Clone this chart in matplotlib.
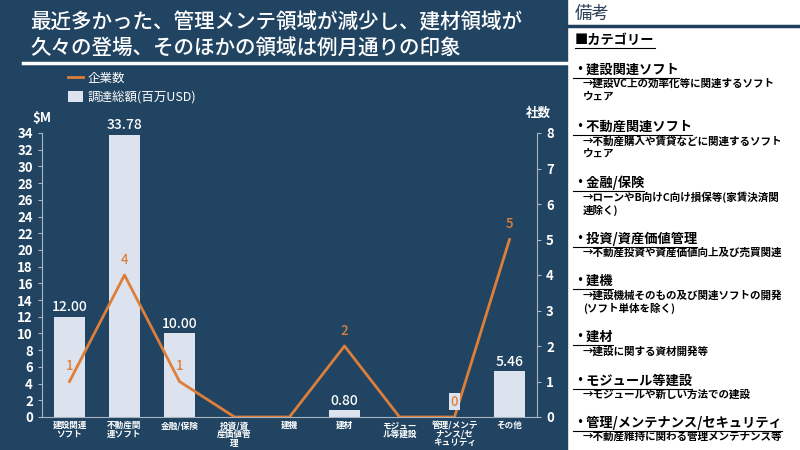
import matplotlib.pyplot as plt
from matplotlib.patches import Rectangle, Patch
from matplotlib.lines import Line2D

plt.rcParams['font.family'] = ['Noto Sans CJK JP', 'DejaVu Sans']

categories = ["建設関連\nソフト", "不動産関\n連ソフト", "金融/保険", "投資/資\n産価値管\n理", "建機",
              "建材", "モジュー\nル等建設", "管理/メンテ\nナンス/セ\nキュリティ", "その他"]
funding = [12.00, 33.78, 10.00, 0, 0, 0.80, 0, 0, 5.46]
companies = [1, 4, 1, 0, 0, 2, 0, 0, 5]
company_labels = ["1", "4", "1", None, None, "2", None, "0", "5"]

notes = [
    ("・建設関連ソフト", ["→建設VC上の効率化等に関連するソフト", "ウェア"]),
    ("・不動産関連ソフト", ["→不動産購入や賃貸などに関連するソフト", "ウェア"]),
    ("・金融/保険", ["→ローンやB向けC向け損保等(家賃決済関", "連除く)"]),
    ("・投資/資産価値管理", ["→不動産投資や資産価値向上及び売買関連"]),
    ("・建機", ["→建設機械そのもの及び関連ソフトの開発", "(ソフト単体を除く)"]),
    ("・建材", ["→建設に関する資材開発等"]),
    ("・モジュール等建設", ["→モジュールや新しい方法での建設"]),
    ("・管理/メンテナンス/セキュリティ", ["→不動産維持に関わる管理メンテナンス等"]),
]
heading_y = [70, 127, 183, 239, 281, 337, 381, 423]

NAVY = "#214462"
BAR = "#dde3ee"
ORANGE = "#dd7f3a"
W, H = 800, 450

fig = plt.figure(figsize=(8, 4.5), dpi=100, facecolor="white")
fig.patches.append(Rectangle((0, 0), 567 / W, 1, transform=fig.transFigure, color=NAVY, zorder=-5))

# title
fig.text(30 / W, 1 - 22 / H, "最近多かった、管理メンテ領域が減少し、建材領域が", color="white",
         fontsize=14.8, fontweight="medium", va="center")
fig.text(30 / W, 1 - 48 / H, "久々の登場、そのほかの領域は例月通りの印象", color="white",
         fontsize=14.8, fontweight="medium", va="center")
fig.add_artist(Line2D([23 / W, 567 / W], [1 - 63 / H] * 2, color="white", lw=2.5))

# chart
ax = fig.add_axes([42 / W, 1 - 417 / H, 495 / W, 284 / H])
ax.set_facecolor("none")
x = list(range(len(categories)))
bars = ax.bar(x, funding, width=0.55, color=BAR, zorder=2)
for b, v in zip(bars, funding):
    if v > 0:
        ax.text(b.get_x() + b.get_width() / 2, v + 0.3, f"{v:.2f}", color="white",
                ha="center", va="bottom", fontsize=10, fontweight="medium")
ax.set_xlim(-0.5, len(categories) - 0.5)
ax.set_ylim(0, 34)
ax.set_yticks(range(0, 35, 2))
ax.set_xticks(x)
ax.set_xticklabels(categories, fontsize=6.2, color="white", fontweight="bold", linespacing=0.95)
ax.tick_params(axis="x", length=0, pad=3)
ax.tick_params(axis="y", colors="#aab4c0", labelcolor="white", labelsize=9.5, length=3)
for lab in ax.get_yticklabels():
    lab.set_fontweight("bold")
for s in ["top", "right"]:
    ax.spines[s].set_visible(False)
ax.spines["left"].set_color("#aab4c0")
ax.spines["bottom"].set_color("#aab4c0")

ax2 = ax.twinx()
ax2.plot(x, companies, color=ORANGE, lw=2, zorder=3)
ax2.set_ylim(0, 8)
ax2.set_yticks(range(0, 9))
ax2.tick_params(axis="y", colors="#aab4c0", labelcolor="white", labelsize=9.5, length=3)
for lab in ax2.get_yticklabels():
    lab.set_fontweight("bold")
for s in ["top", "left", "bottom"]:
    ax2.spines[s].set_visible(False)
ax2.spines["right"].set_color("#aab4c0")
for xi, v, lab in zip(x, companies, company_labels):
    if lab is None:
        continue
    box = dict(boxstyle="square,pad=0.1", fc=BAR, ec="none") if v == 0 else None
    ax2.annotate(lab, (xi, v), xytext=(0, 6), textcoords="offset points", ha="center",
                 va="bottom", color=ORANGE, fontsize=9.5, fontweight="medium", bbox=box)

fig.text(42 / W, 1 - 118 / H, "$M", color="white", fontsize=9.5, fontweight="bold", ha="center", va="center")
fig.text(538 / W, 1 - 113 / H, "社数", color="white", fontsize=9, fontweight="bold", ha="center", va="center")

handles = [Line2D([], [], color=ORANGE, lw=2), Patch(facecolor=BAR, edgecolor="none")]
fig.legend(handles, ["企業数", "調達総額(百万USD)"], loc="upper left", bbox_to_anchor=(68 / W, 1 - 72 / H),
           frameon=False, labelcolor="white", fontsize=9, handlelength=1.2, handleheight=1.0,
           handletextpad=0.4, labelspacing=0.45, borderaxespad=0, borderpad=0)

# notes panel
fig.text(575 / W, 1 - 14 / H, "備考", color="#2a3f55", fontsize=12.5, va="center")
fig.add_artist(Line2D([568 / W, 1], [1 - 26 / H] * 2, color="#1f3f5f", lw=2.5))

underlined = []
t = fig.text(575 / W, 1 - 40 / H, "■カテゴリー", color="black", fontsize=9.5, fontweight="bold", va="center")
underlined.append((t, 40))
for (head, desc), hy in zip(notes, heading_y):
    t = fig.text(573 / W, 1 - hy / H, head, color="black", fontsize=9.5, fontweight="bold", va="center")
    underlined.append((t, hy))
    for i, d in enumerate(desc):
        fig.text(583 / W, 1 - (hy + 14 + 13 * i) / H, d, color="black", fontsize=7.6,
                 fontweight="bold", va="center")

fig.canvas.draw()
r = fig.canvas.get_renderer()
for t, yy in underlined:
    bb = t.get_window_extent(r)
    fig.add_artist(Line2D([bb.x0 / W, bb.x1 / W], [1 - (yy + 8) / H] * 2, color="black", lw=0.8))

fig.savefig("out.png", dpi=100, facecolor=fig.get_facecolor())
